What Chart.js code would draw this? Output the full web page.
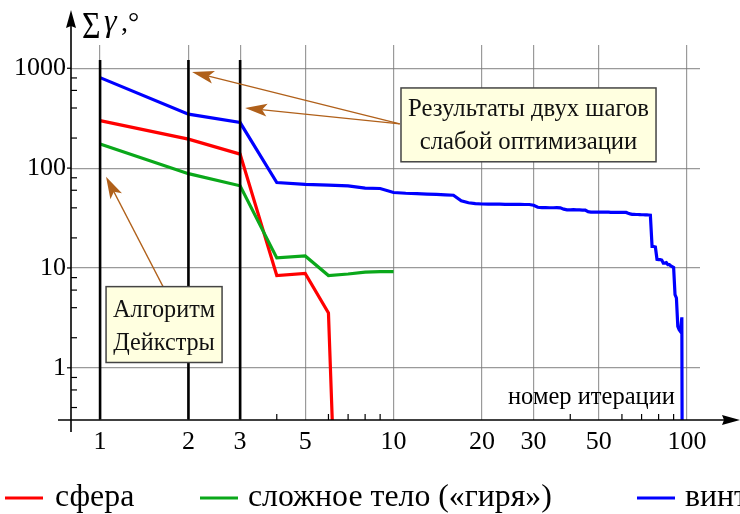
<!DOCTYPE html>
<html><head><meta charset="utf-8">
<script src="https://cdn.jsdelivr.net/npm/chart.js@4.4.1/dist/chart.umd.min.js"></script>
<style>html,body{margin:0;padding:0;background:#fff;overflow:hidden}#wrap{width:740px;height:514px;position:relative}</style>
</head><body><div id="wrap"><canvas id="c" width="740" height="514"></canvas></div>
<script>
// ---- data ----
const xTickValues = [1, 2, 3, 5, 10, 20, 30, 50, 100];
const yTickValues = [1, 10, 100, 1000];
const xMinorTicks = [4, 6, 7, 8, 9, 40, 60, 70, 80, 90];
const yMinorTicks = [0.4, 0.6, 0.8, 2, 4, 6, 8, 20, 40, 60, 80, 200, 400, 600, 800];

const seriesNames = ['сфера', 'сложное тело («гиря»)', 'винт'];

const sphereIter = [1, 2, 3, 4, 5, 6, 7];
const sphereSum = [299, 195, 138, 8.4, 8.8, 3.55, 0.00001];

const weightIter = [1, 2, 3, 4, 5, 6, 7, 8, 9, 10];
const weightSum = [174, 88, 66.5, 12.6, 13.2, 8.4, 8.7, 9.1, 9.2, 9.2];

const screwSum = [
  806, 347, 286, 71.8, 68.7, 67.5, 66.5, 63, 62.5, 57,
  56, 55.5, 55, 54.5, 54, 53.5, 47, 45, 44, 43.7,
  43.6, 43.5, 43.5, 43.4, 43.4, 43.3, 43.3, 43.2, 43.2, 42.5,
  40.5, 40.2, 40.2, 40.1, 40.1, 40.2, 40, 38.8, 38.2, 38.2,
  38.3, 38.1, 38.1, 38, 38, 36.6, 36.3, 36.3, 36.3, 36.3,
  36.2, 36.2, 36.2, 36.2, 36.1, 36.1, 36.1, 36.1, 36, 36,
  36, 36, 35.3, 34.8, 34.4, 34.4, 34.3, 34.3, 34.2, 34.1,
  34.1, 34, 34, 33.9, 33.8, 16.4, 16.4, 16.2, 12.2, 12.1,
  12.1, 12, 11.2, 11.2, 11.3, 10.8, 10.8, 10.5, 10.3, 10.1,
  5.4, 5.0, 2.6, 2.4, 2.3, 3.2, 0.00001
];
const screwIter = screwSum.map((_, i) => i + 1);

const dijkstraStep = [1];
const weakOptSteps = [2, 3];
const stepLineTop = 1211;

const xRange = [0.796, 110.7];
const yRange = [0.304, 1710];

// ---- build ----
const pts = (xs, ys) => xs.map((x, i) => ({ x: x, y: ys[i] }));
const vline = x => [{ x: x, y: stepLineTop }, { x: x, y: yRange[0] }];

const SERIF = "'Liberation Serif', 'Times New Roman', serif";
const COLORS = ['#ff0000', '#0aa81a', '#0000ff'];

const datasets = [];
[...dijkstraStep, ...weakOptSteps].forEach(s => datasets.push({
  data: vline(s), borderColor: '#000', borderWidth: 2.6, pointRadius: 0, order: 0
}));
datasets.push({ label: seriesNames[0], data: pts(sphereIter, sphereSum), borderColor: COLORS[0], borderWidth: 3.2, pointRadius: 0, order: 3 });
datasets.push({ label: seriesNames[1], data: pts(weightIter, weightSum), borderColor: COLORS[1], borderWidth: 3.2, pointRadius: 0, order: 2 });
datasets.push({ label: seriesNames[2], data: pts(screwIter, screwSum), borderColor: COLORS[2], borderWidth: 3.2, pointRadius: 0, order: 1 });

function fitSize(ctx, text, targetW, style) {
  ctx.font = `${style} 20px ${SERIF}`;
  return 20 * targetW / ctx.measureText(text).width;
}

function arrowHead(ctx, x0, y0, x1, y1, len, hw, notch) {
  const a = Math.atan2(y1 - y0, x1 - x0);
  const c = Math.cos(a), s = Math.sin(a);
  const bx = x1 - len * c, by = y1 - len * s;
  ctx.beginPath();
  ctx.moveTo(x1, y1);
  ctx.lineTo(bx - hw * s, by + hw * c);
  ctx.lineTo(x1 - (len - notch) * c, y1 - (len - notch) * s);
  ctx.lineTo(bx + hw * s, by - hw * c);
  ctx.closePath();
  ctx.fill();
}

const overlay = {
  id: 'overlay',
  afterDraw(chart) {
    const ctx = chart.ctx, xs = chart.scales.x, ys = chart.scales.y, ca = chart.chartArea;
    const X = v => xs.getPixelForValue(v), Y = v => ys.getPixelForValue(v);
    const line = (a, b, c, d) => { ctx.beginPath(); ctx.moveTo(a, b); ctx.lineTo(c, d); ctx.stroke(); };
    ctx.save();
    // minor ticks
    ctx.strokeStyle = '#000'; ctx.lineWidth = 1.2;
    xMinorTicks.forEach(v => { const x = X(v); line(x, ca.bottom, x, ca.bottom - 6); });
    yMinorTicks.forEach(v => { const y = Y(v); line(ca.left, y, ca.left + 6, y); });
    yTickValues.forEach(v => { const y = Y(v); line(ca.left - 4, y, ca.left, y); });
    // axes with arrows
    ctx.lineWidth = 1.6; ctx.fillStyle = '#000';
    line(ca.left - 13, ca.bottom, 728, ca.bottom);
    arrowHead(ctx, 600, ca.bottom, 740, ca.bottom, 18, 5, 2);
    line(ca.left, ca.bottom + 12, ca.left, 24);
    arrowHead(ctx, ca.left, 200, ca.left, 10, 18, 5, 2);

    // y-axis title
    ctx.fillStyle = '#000'; ctx.textBaseline = 'alphabetic'; ctx.textAlign = 'left';
    ctx.save();
    ctx.translate(82, 38);
    ctx.scale(0.86, 1);
    ctx.font = `37px ${SERIF}`;
    ctx.fillText('Σ', 0, 0);
    ctx.restore();
    ctx.font = `italic 32px ${SERIF}`;
    ctx.fillText('γ', 104, 31);
    ctx.font = `28px ${SERIF}`;
    ctx.fillText(',°', 121, 31);

    // x-axis title
    const fx = fitSize(ctx, 'номер итерации', 167, '');
    ctx.font = `${fx}px ${SERIF}`;
    ctx.fillText('номер итерации', 508, 404);

    // annotations (anchored in data coordinates)
    const brown = '#b0601a';
    ctx.strokeStyle = brown; ctx.fillStyle = brown; ctx.lineWidth = 1.3;
    const s = { x: X(10.5), y: Y(277) };
    const t1 = { x: X(2.058), y: Y(918) };
    const t2 = { x: X(3.12), y: Y(401) };
    const s3 = { x: X(1.639), y: Y(6.5) };
    const t3 = { x: X(1.048), y: Y(82) };
    [[s, t1], [s, t2], [s3, t3]].forEach(([a, b]) => {
      const ang = Math.atan2(b.y - a.y, b.x - a.x);
      line(a.x, a.y, b.x - 16 * Math.cos(ang), b.y - 16 * Math.sin(ang));
      arrowHead(ctx, a.x, a.y, b.x, b.y, 22, 6.5, 5);
    });

    const box = (x0, x1, y0, y1) => {
      const l = X(x0), r = X(x1), t = Y(y0), b = Y(y1);
      ctx.fillStyle = '#ffffe0'; ctx.fillRect(l, t, r - l, b - t);
      ctx.strokeStyle = '#444'; ctx.lineWidth = 1.5; ctx.strokeRect(l, t, r - l, b - t);
      return { l, r, t, b, cx: (l + r) / 2 };
    };
    const bR = box(10.6, 78.4, 635, 115.7);
    const bD = box(1.048, 2.604, 6.5, 1.13);
    ctx.fillStyle = '#111'; ctx.textAlign = 'center';
    const fR = fitSize(ctx, 'Результаты двух шагов', 241, '');
    ctx.font = `${fR}px ${SERIF}`;
    ctx.fillText('Результаты двух шагов', bR.cx, bR.t + 28);
    ctx.fillText('слабой оптимизации', bR.cx, bR.t + 61);
    const fD = fitSize(ctx, 'Алгоритм', 102, '');
    ctx.font = `${fD}px ${SERIF}`;
    ctx.fillText('Алгоритм', bD.cx, bD.t + 30);
    ctx.fillText('Дейкстры', bD.cx, bD.t + 63);

    // legend
    const fL = fitSize(ctx, seriesNames[1], 304, '');
    ctx.font = `${fL}px ${SERIF}`; ctx.textAlign = 'left'; ctx.fillStyle = '#000';
    const legX = [5, 200, 637];
    const legT = [55, 248, 685];
    ctx.lineWidth = 3;
    seriesNames.forEach((n, i) => {
      ctx.strokeStyle = COLORS[i];
      line(legX[i], 498, legX[i] + 38, 498);
      ctx.fillText(n, legT[i], 506);
    });
    ctx.restore();
  }
};

new Chart(document.getElementById('c'), {
  type: 'line',
  data: { datasets },
  options: {
    responsive: false, animation: false, devicePixelRatio: 1,
    layout: { padding: { top: 45, right: 40, left: 0, bottom: 0 } },
    plugins: { legend: { display: false }, tooltip: { enabled: false } },
    elements: { line: { tension: 0, fill: false } },
    scales: {
      x: {
        type: 'logarithmic', min: xRange[0], max: xRange[1],
        afterBuildTicks: s => { s.ticks = xTickValues.map(v => ({ value: v })); },
        afterFit: s => { s.height = 94; },
        ticks: { autoSkip: false, maxRotation: 0, color: '#000', padding: 7,
          font: { family: SERIF, size: 26 }, callback: v => String(v) },
        grid: { color: 'rgba(120,120,120,0.75)', lineWidth: 1.2, drawTicks: false },
        border: { display: false }
      },
      y: {
        type: 'logarithmic', min: yRange[0], max: yRange[1],
        afterBuildTicks: s => { s.ticks = yTickValues.map(v => ({ value: v })); },
        afterFit: s => { s.width = 71; },
        ticks: { autoSkip: false, color: '#000', padding: 5,
          font: { family: SERIF, size: 26 }, callback: v => String(v) },
        grid: { color: 'rgba(120,120,120,0.75)', lineWidth: 1.2, drawTicks: false },
        border: { display: false }
      }
    }
  },
  plugins: [overlay]
});
</script></body></html>
